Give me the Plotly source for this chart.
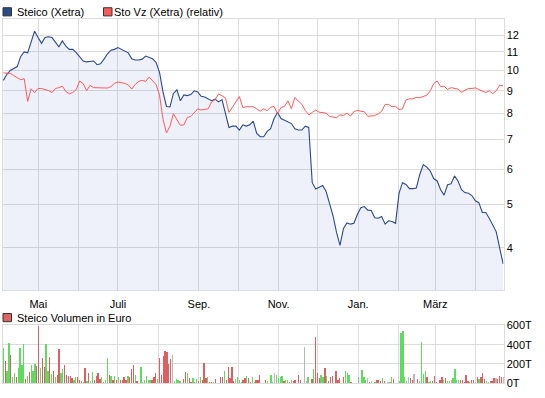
import math
import pandas as pd
import plotly.graph_objects as go

# ---------------- data ----------------
steico = [
    9.5, 9.8, 10.0, 10.1, 10.2, 10.75, 11.0, 10.95, 11.6, 12.25,
    11.85, 11.5, 11.85, 11.9, 11.85, 11.6, 11.3, 11.65, 11.33, 11.15,
    11.15, 10.96, 10.7, 10.5, 10.45, 10.47, 10.5, 10.3, 10.35, 10.6,
    10.9, 11.1, 11.15, 11.25, 11.15, 11.05, 10.95, 10.62, 10.55, 10.55,
    10.6, 10.77, 10.68, 10.62, 10.42, 9.9, 8.95, 8.3, 8.28, 8.88,
    9.05, 8.55, 8.81, 8.78, 8.83, 9.0, 8.95, 8.75, 8.72, 8.65,
    8.55, 8.62, 8.5, 8.6, 8.05, 7.45, 7.5, 7.5, 7.35, 7.55,
    7.5, 7.55, 7.7, 7.22, 7.1, 7.1, 7.3, 7.4, 7.8, 8.05,
    7.8, 7.73, 7.65, 7.6, 7.4, 7.35, 7.35, 7.5, 7.45, 5.6,
    5.42, 5.48, 5.52, 5.35, 5.0, 4.72, 4.33, 4.05, 4.42, 4.55,
    4.52, 4.54, 4.75, 4.92, 4.95, 4.86, 4.85, 4.67, 4.66, 4.7,
    4.52, 4.6, 4.58, 4.54, 5.3, 5.6, 5.55, 5.43, 5.43, 5.45,
    5.85, 6.15, 6.07, 5.95, 5.72, 5.65, 5.4, 5.25, 5.54, 5.57,
    5.8, 5.65, 5.4, 5.32, 5.3, 5.24, 5.1, 5.05, 4.8, 4.8,
    4.66, 4.5, 4.35, 4.0, 3.68,
]

sto_rel = [
    9.87, 9.87, 9.85, 9.74, 9.62, 9.53, 9.58, 8.52, 9.1, 8.92,
    9.11, 9.11, 9.06, 9.01, 8.92, 9.11, 9.15, 9.22, 8.97, 8.86,
    8.92, 9.06, 9.47, 9.34, 9.01, 9.26, 9.15, 9.15, 9.15, 9.15,
    9.13, 9.2, 9.35, 9.42, 9.39, 9.35, 9.28, 9.08, 9.3, 9.45,
    9.5, 9.45, 9.66, 9.5, 9.3, 8.8, 7.77, 7.24, 7.49, 8.0,
    7.77, 7.53, 7.55, 7.84, 7.88, 8.06, 8.2, 8.15, 8.17, 8.2,
    8.5, 8.6, 8.85, 8.78, 8.67, 8.05, 8.27, 8.5, 8.74, 8.25,
    8.29, 8.29, 8.29, 8.2, 8.1, 8.2, 8.12, 8.27, 8.3, 7.99,
    8.26, 8.3, 8.55, 8.2, 8.7, 8.53, 8.4, 8.13, 7.95, 8.05,
    8.15, 8.06, 8.04, 8.02, 7.89, 7.85, 7.83, 7.95, 7.92, 8.02,
    7.9, 8.08, 8.14, 8.1, 8.08, 7.89, 7.89, 7.92, 7.99, 8.1,
    8.39, 8.39, 8.29, 8.31, 8.17, 8.2, 8.58, 8.64, 8.63, 8.7,
    8.68, 8.74, 8.8, 9.0, 9.34, 9.47, 9.2, 9.22, 9.06, 9.15,
    9.13, 9.08, 8.93, 9.03, 9.11, 9.11, 9.14, 9.06, 8.98, 8.92,
    9.0, 8.87, 9.0, 9.26, 9.24,
]

# daily turnover in thousand euro (T)
volume = [
    370, 230, 123, 420, 290, 70, 103, 63, 163, 363, 190, 410, 40, 73, 120, 190, 130, 203, 180, 590,
    163, 263, 170, 403, 123, 270, 97, 130, 60, 87, 350, 107, 150, 190, 90, 73, 80, 50, 30, 60,
    60, 37, 20, 10, 160, 20, 103, 20, 120, 30, 80, 110, 40, 70, 10, 37, 260, 90, 77, 37,
    77, 37, 67, 30, 30, 70, 30, 77,
    63, 153, 190, 90, 20, 0, 170, 13, 30, 80, 30, 30, 37, 63, 110, 40, 263, 90, 280, 330,
    320, 203, 253, 290, 23, 40, 30, 20, 0, 40, 120, 103, 53, 13, 50, 13, 40, 20, 70, 30,
    210, 50, 70, 13, 13, 13, 40, 7, 0, 70, 60, 130, 30, 170, 50, 170, 20, 40, 70, 30,
    13, 30, 50, 80, 50, 13, 60, 10,
    37, 30, 90, 0, 0, 30, 20, 0, 90, 13, 103, 90, 50, 63, 80, 20, 30, 30, 13, 30,
    20, 30, 5, 90, 30, 0, 380, 20, 60, 0, 47, 150, 480, 110, 50, 90, 70, 160, 80, 20,
    60, 80, 0, 130, 37, 50, 0, 60, 130, 110, 90, 10, 0, 0, 0, 70, 0, 140, 70, 37,
    50, 10, 20, 0, 10, 30, 30,
    20, 50, 20, 0, 10, 10, 60, 40, 0, 0, 20, 520, 540, 60, 20, 70, 50, 30, 100, 0,
    40, 20, 430, 100, 130, 60, 10, 20, 20, 80, 10, 0, 30, 70, 30, 50, 20, 20, 37, 50,
    150, 30, 30, 30, 30, 10, 90, 20, 10, 37, 37, 10, 70, 40, 60, 110, 40, 20, 10, 20,
    20, 50, 50, 40, 80, 70, 70,
]
# g = price up, r = price down, n = unchanged
direction = (
    "grggrggrggggrgrgggrr" "grrggrgrgrrggrrrrrgg" "rrrgrgrggrrrrgrggrgr" "grgrrrrg"
    "rrrgrnggggggrrrgrrrr" "rrrnggggnrrgrrgrgrgr" "rrgrrgrgnrrgrrrrrngg" "grrgrrgg"
    "rrrnnrgnggnggggrggrg" "rrrrrnnngnrgrrrggrgr" "rrnrrrnrgggrnnngnggg" "nrnngrr"
    "rgrnnggrnngggggnrrng" "rggggrggrrrnrrgrggng" "gggrrrrrgrrnrgrrrggr" "rrnrrrr"
)
months = ["2008-05-01", "2008-06-01", "2008-07-01", "2008-08-01", "2008-09-01", "2008-10-01",
          "2008-11-01", "2008-12-01", "2009-01-01", "2009-02-01", "2009-03-01", "2009-04-01"]
month_labels = ["Mai", "", "Juli", "", "Sep.", "", "Nov.", "", "Jan.", "", "März", ""]
price_ticks = [4, 5, 6, 7, 8, 9, 10, 11, 12]
vol_ticks = [0, 200, 400, 600]
vol_tick_labels = ["0T", "200T", "400T", "600T"]

assert len(steico) == len(sto_rel)
assert len(volume) == len(direction)

price_dates = pd.date_range("2008-04-04 06:00", "2009-04-22 00:00", periods=len(steico))
vol_dates = pd.date_range("2008-04-04 05:00", "2009-04-22 03:00", periods=len(volume))

# ---------------- styling ----------------
W, H = 545, 398
GRID = "#dcdcdc"
BLUE = "#2a4a8c"
RED = "#ff5a5a"
BAR_COL = {"g": "#5fdc5f", "r": "#de5f5f", "n": "#b8b8b8"}
FONT = "Liberation Sans, Arial, sans-serif"

x_dom = [2.5 / W, 503.5 / W]
main_dom = [1 - 293.3 / H, 1 - 13.3 / H]
vol_dom = [1 - 389.0 / H, 1 - 329.3 / H]
x_range = ["2008-04-03 14:00", "2009-04-22 07:00"]

fig = go.Figure()
fig.add_trace(go.Scatter(
    x=price_dates, y=steico, mode="lines", name="Steico (Xetra)",
    line=dict(color=BLUE, width=1.1), fill="tozeroy",
    fillcolor="rgba(85,115,195,0.10)", xaxis="x", yaxis="y", hoverinfo="skip"))
fig.add_trace(go.Scatter(
    x=price_dates, y=sto_rel, mode="lines", name="Sto Vz (Xetra) (relativ)",
    line=dict(color=RED, width=1), xaxis="x", yaxis="y", hoverinfo="skip"))
fig.add_trace(go.Bar(
    x=vol_dates, y=volume, marker=dict(color=[BAR_COL[c] for c in direction], line=dict(width=0)),
    width=1.0 * 86400000, xaxis="x2", yaxis="y2", hoverinfo="skip"))

axis_common = dict(showgrid=True, gridcolor=GRID, gridwidth=1, showline=True, linecolor=GRID,
                   linewidth=1, mirror=True, ticks="", zeroline=False,
                   tickfont=dict(family=FONT, size=11, color="#000000"))

fig.update_layout(
    width=W, height=H, margin=dict(l=0, r=0, t=0, b=0),
    paper_bgcolor="white", plot_bgcolor="white", showlegend=False,
    font=dict(family=FONT, size=11, color="#000000"), bargap=0,
    xaxis=dict(domain=x_dom, type="date", range=x_range, tickmode="array",
               tickvals=months, ticktext=month_labels, anchor="y",
               ticklabelstandoff=3, **axis_common),
    yaxis=dict(domain=main_dom, type="log",
               range=[math.log10(3.209), math.log10(13.05)], side="right",
               tickmode="array", tickvals=price_ticks, ticktext=[str(t) for t in price_ticks],
               anchor="x", **axis_common),
    xaxis2=dict(domain=x_dom, type="date", range=x_range, tickmode="array",
                tickvals=months, showticklabels=False, anchor="y2", **axis_common),
    yaxis2=dict(domain=vol_dom, range=[0, 600], side="right", tickmode="array",
                tickvals=vol_ticks, ticktext=vol_tick_labels, anchor="x2", **axis_common),
)

# legend boxes and labels
def legend_item(x0, yc, fill, text, tx):
    fig.add_shape(type="rect", xref="paper", yref="paper",
                  x0=x0 / W, x1=(x0 + 8.5) / W, y0=1 - (yc + 4.2) / H, y1=1 - (yc - 4.2) / H,
                  fillcolor=fill, line=dict(color="#333333", width=1))
    fig.add_annotation(xref="paper", yref="paper", x=tx / W, y=1 - yc / H, text=text,
                       showarrow=False, xanchor="left", yanchor="middle",
                       font=dict(family=FONT, size=11, color="#000000"))

legend_item(3, 6.0, BLUE, "Steico (Xetra)", 14.5)
legend_item(103.5, 6.0, RED, "Sto Vz (Xetra) (relativ)", 112)
legend_item(3, 321.3, "#e06464", "Steico Volumen in Euro", 14.5)

fig.write_html("out.html", config={"displayModeBar": False, "staticPlot": True},
               post_script="document.body.style.margin='0';")
